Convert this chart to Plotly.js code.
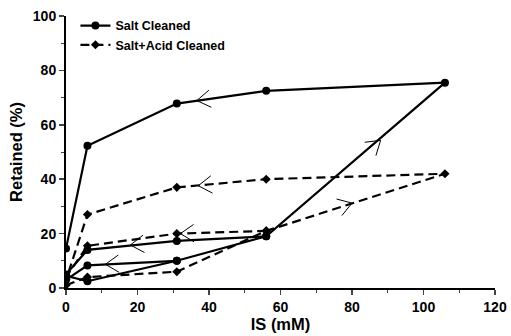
<!DOCTYPE html>
<html><head><meta charset="utf-8">
<script src="https://cdn.plot.ly/plotly-3.0.1.min.js"></script>
<style>html,body{margin:0;padding:0;background:#fff}#c{width:511px;height:336px}</style>
</head><body><div id="c"></div>
<script>
// Salt Cleaned (solid)
const saltX1 = [0, 6, 31, 56, 106, 56, 31, 6, 0];
const saltY1 = [4.5, 2.5, 10, 19, 75.5, 72.5, 67.8, 52.3, 14.5];
const saltX2 = [56, 31, 6, 0];
const saltY2 = [19, 17.3, 14, 5];
const saltX3 = [31, 6, 0];
const saltY3 = [10, 8.3, 3];
// Salt+Acid Cleaned (dashed)
const acidX1 = [0, 6, 31, 56, 106, 56, 31, 6, 0];
const acidY1 = [1, 4, 6, 21, 42, 40, 37, 27, 3];
const acidX2 = [56, 31, 6, 0];
const acidY2 = [21, 20, 15.5, 4];
// direction arrows: tip position and the point the arrow comes from
const arrowX = [36.6, 88, 37, 80, 32, 18, 11];
const arrowY = [68.9, 54.3, 37.6, 31.2, 20, 15.8, 8.7];
const arrowFromX = [56, 56, 56, 56, 56, 31, 31];
const arrowFromY = [72.5, 19, 40, 21, 21, 17.3, 10];

// open chevrons, built from the arrow arrays (axis units -> approx. pixels for the shape)
const XR = [0, 120], YR = [0, 100];
const sx = 429 / (XR[1] - XR[0]), sy = 273 / (YR[1] - YR[0]);
const armLen = 16, half = 33 * Math.PI / 180;
const chevX = [], chevY = [];
arrowX.forEach((tx, i) => {
  const ty = arrowY[i];
  let dx = (tx - arrowFromX[i]) * sx, dy = (ty - arrowFromY[i]) * sy;
  const n = Math.hypot(dx, dy); dx /= n; dy /= n;
  const bx = -dx, by = -dy;
  [half, -half].forEach(a => {
    const ex = bx * Math.cos(a) - by * Math.sin(a);
    const ey = bx * Math.sin(a) + by * Math.cos(a);
    chevX.push(tx, tx + ex * armLen / sx, null);
    chevY.push(ty, ty + ey * armLen / sy, null);
  });
});

const solid = {color:'#000', width:2.2};
const dashed = {color:'#000', width:2.2, dash:'9px,5px'};
const circ = {symbol:'circle', size:8, color:'#000'};
const diam = {symbol:'diamond', size:7, color:'#000'};
const traces = [
  {x:saltX1, y:saltY1, mode:'lines+markers', line:solid, marker:circ, name:'Salt Cleaned', legendgroup:'s'},
  {x:saltX2, y:saltY2, mode:'lines+markers', line:solid, marker:circ, showlegend:false, legendgroup:'s'},
  {x:saltX3, y:saltY3, mode:'lines+markers', line:solid, marker:circ, showlegend:false, legendgroup:'s'},
  {x:acidX1, y:acidY1, mode:'lines+markers', line:dashed, marker:diam, name:'Salt+Acid Cleaned', legendgroup:'a'},
  {x:acidX2, y:acidY2, mode:'lines+markers', line:dashed, marker:diam, showlegend:false, legendgroup:'a'},
  {x:chevX, y:chevY, mode:'lines', line:{color:'#000', width:1}, showlegend:false, hoverinfo:'skip', connectgaps:false}
];
const F = 'Liberation Sans, Arial, sans-serif';
const layout = {
  width:511, height:336,
  margin:{l:66, r:16, t:15, b:48},
  paper_bgcolor:'#fff', plot_bgcolor:'#fff',
  font:{family:F, size:14, color:'#000', weight:'bold'},
  showlegend:true,
  legend:{x:0.022, y:1.015, xanchor:'left', yanchor:'top', bgcolor:'rgba(0,0,0,0)',
    font:{family:F, size:12.5, color:'#000', weight:'bold'}, tracegroupgap:0},
  xaxis:{range:XR, tick0:0, dtick:20, ticks:'outside', ticklen:5, tickwidth:1.5, showgrid:false, zeroline:false,
    showline:true, linecolor:'#000', linewidth:2, minor:{dtick:10, ticks:'outside', ticklen:3, tickwidth:1},
    title:{text:'IS (mM)', font:{family:F, size:16.5, weight:'bold'}, standoff:5}, tickfont:{family:F, size:14, weight:'bold'}},
  yaxis:{range:YR, tick0:0, dtick:20, ticks:'outside', ticklen:5, tickwidth:1.5, showgrid:false, zeroline:false,
    showline:true, linecolor:'#000', linewidth:2, minor:{dtick:10, ticks:'outside', ticklen:3, tickwidth:1},
    title:{text:'Retained (%)', font:{family:F, size:16.5, weight:'bold'}, standoff:6}, tickfont:{family:F, size:14, weight:'bold'}}
};
Plotly.newPlot('c', traces, layout, {displayModeBar:false, staticPlot:true});
</script></body></html>
